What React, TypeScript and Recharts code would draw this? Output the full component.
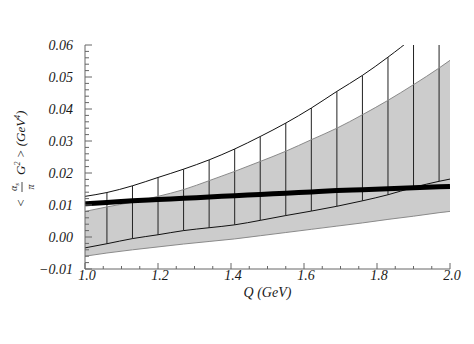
import React from "react";
import { ComposedChart, Area, Line, Bar, XAxis, YAxis } from "recharts";

// sample points along Q (GeV); hatch lines sit on the inner ones
const qValues = [1.0, 1.06, 1.13, 1.2, 1.27, 1.34, 1.41, 1.48, 1.55, 1.62, 1.69, 1.76, 1.83, 1.9, 1.97, 2.0];
const hatchUpper = [0.0127, 0.0139, 0.016, 0.0186, 0.0212, 0.0241, 0.0275, 0.0314, 0.0356, 0.0403, 0.0455, 0.0505, 0.0562, 0.0625, 0.07, 0.0735];
const hatchLower = [-0.0034, -0.0021, -0.0005, 0.0007, 0.002, 0.0029, 0.0038, 0.0052, 0.0067, 0.0081, 0.0096, 0.0113, 0.0132, 0.0155, 0.0174, 0.0181];
const grayUpper = [0.008, 0.0094, 0.0109, 0.0127, 0.0148, 0.0176, 0.0205, 0.0236, 0.0268, 0.0304, 0.034, 0.0382, 0.0427, 0.0476, 0.0528, 0.0552];
const grayLower = [-0.006, -0.005, -0.004, -0.0031, -0.0022, -0.0014, -0.0006, 0.0004, 0.0014, 0.0024, 0.0034, 0.0044, 0.0055, 0.0065, 0.0076, 0.008];
const central = [0.0104, 0.0108, 0.0113, 0.0117, 0.0121, 0.0125, 0.0129, 0.0133, 0.0137, 0.0141, 0.0145, 0.0148, 0.0151, 0.0154, 0.0157, 0.0158];
const hatchQ = [1.06, 1.13, 1.2, 1.27, 1.34, 1.41, 1.48, 1.55, 1.62, 1.69, 1.76, 1.83, 1.9, 1.97];

const xMajor = [1.0, 1.2, 1.4, 1.6, 1.8, 2.0];
const yMajor = [-0.01, 0, 0.01, 0.02, 0.03, 0.04, 0.05, 0.06];

// minor ticks every 0.05 on x and 0.002 on y
const xTicks = Array.from({ length: 21 }, (_, i) => +(1 + i * 0.05).toFixed(2));
const yTicks = Array.from({ length: 36 }, (_, i) => +(-0.01 + i * 0.002).toFixed(3));

const data = qValues.map((q, i) => ({
  q,
  gray: [grayLower[i], grayUpper[i]],
  grayLo: grayLower[i],
  grayHi: grayUpper[i],
  lo: hatchLower[i],
  hi: hatchUpper[i],
  mid: central[i],
  hatch: hatchQ.includes(q) ? [hatchLower[i], hatchUpper[i]] : undefined,
}));

const FONT = '"Liberation Serif", "DejaVu Serif", serif';
const TM = 12;
const frame = "#666";
const ink = "#1a1a1a";

const isMajor = (list: number[], v: number) => list.some((m) => Math.abs(m - v) < 1e-6);

function BottomTick(props: any) {
  const { x, y, payload } = props;
  const v = payload.value;
  const major = isMajor(xMajor, v);
  const y0 = y - TM;
  return (
    <g>
      <line x1={x} x2={x} y1={y0} y2={y0 - (major ? 6 : 3)} stroke={frame} />
      {major && (
        <text x={x + 2} y={y0 + 11} textAnchor="middle" fontFamily={FONT} fontStyle="italic" fontSize={14} fill={ink}>
          {v.toFixed(1)}
        </text>
      )}
    </g>
  );
}

function TopTick(props: any) {
  const { x, y, payload } = props;
  const major = isMajor(xMajor, payload.value);
  const y0 = y + TM;
  return <line x1={x} x2={x} y1={y0} y2={y0 + (major ? 6 : 3)} stroke={frame} />;
}

function LeftTick(props: any) {
  const { x, y, payload } = props;
  const v = payload.value;
  const major = isMajor(yMajor, v);
  const x0 = x + TM;
  return (
    <g>
      <line x1={x0} x2={x0 + (major ? 7 : 4)} y1={y} y2={y} stroke={frame} />
      {major && (
        <text x={x} y={y + 4.5} textAnchor="end" fontFamily={FONT} fontStyle="italic" fontSize={14} fill={ink}>
          {v.toFixed(2).replace("-", "\u2212")}
        </text>
      )}
    </g>
  );
}

function RightTick(props: any) {
  const { x, y, payload } = props;
  const major = isMajor(yMajor, payload.value);
  const x0 = x - TM;
  return <line x1={x0} x2={x0 - (major ? 7 : 4)} y1={y} y2={y} stroke={frame} />;
}

function YLabel(props: any) {
  const { viewBox } = props;
  const cx = viewBox.x + 13;
  const cy = viewBox.y + viewBox.height / 2;
  return (
    <g transform={`translate(${cx},${cy}) rotate(-90)`} fontFamily={FONT} fontStyle="italic" fill={ink}>
      <text x={-46} y={4} fontSize={13} textAnchor="middle">&lt;</text>
      <text x={-30} y={-4} fontSize={10} textAnchor="middle">
        α<tspan fontSize={7} dy={2}>s</tspan>
      </text>
      <line x1={-35} x2={-25} y1={1} y2={1} stroke={ink} strokeWidth={0.8} />
      <text x={-30} y={13} fontSize={10} textAnchor="middle">π</text>
      <text x={-18} y={4} fontSize={13}>
        G<tspan fontSize={8} dy={-5}>2</tspan>
        <tspan dy={5}> &gt; (GeV</tspan>
        <tspan fontSize={8} dy={-5}>4</tspan>
        <tspan dy={5}>)</tspan>
      </text>
    </g>
  );
}

function XLabel(props: any) {
  const { viewBox } = props;
  return (
    <text
      x={viewBox.x + viewBox.width / 2}
      y={viewBox.y + 28}
      textAnchor="middle"
      fontFamily={FONT}
      fontStyle="italic"
      fontSize={14}
      fill={ink}
    >
      Q (GeV)
    </text>
  );
}

export default function App() {
  return (
    <div style={{ width: 466, height: 336 }}>
      <ComposedChart width={466} height={336} data={data} margin={{ top: 37, right: 24, bottom: 45, left: 0 }}>
        <XAxis
          xAxisId="b"
          dataKey="q"
          type="number"
          domain={[1, 2]}
          ticks={xTicks}
          interval={0}
          allowDataOverflow
          height={30}
          tickSize={0}
          tickMargin={TM}
          tickLine={false}
          axisLine={{ stroke: frame }}
          tick={(p: any) => <BottomTick {...p} />}
          label={{ content: (p: any) => <XLabel {...p} /> }}
        />
        <XAxis
          xAxisId="t"
          orientation="top"
          dataKey="q"
          type="number"
          domain={[1, 2]}
          ticks={xTicks}
          interval={0}
          allowDataOverflow
          height={0}
          tickSize={0}
          tickMargin={TM}
          tickLine={false}
          axisLine={{ stroke: frame }}
          tick={(p: any) => <TopTick {...p} />}
        />
        <YAxis
          yAxisId="l"
          type="number"
          domain={[-0.01, 0.06]}
          ticks={yTicks}
          interval={0}
          allowDataOverflow
          width={77}
          tickSize={0}
          tickMargin={TM}
          tickLine={false}
          axisLine={{ stroke: frame }}
          tick={(p: any) => <LeftTick {...p} />}
          label={{ content: (p: any) => <YLabel {...p} /> }}
        />
        <YAxis
          yAxisId="r"
          orientation="right"
          type="number"
          domain={[-0.01, 0.06]}
          ticks={yTicks}
          interval={0}
          allowDataOverflow
          width={0}
          tickSize={0}
          tickMargin={TM}
          tickLine={false}
          axisLine={{ stroke: frame }}
          tick={(p: any) => <RightTick {...p} />}
        />
        <Area
          xAxisId="b"
          yAxisId="l"
          dataKey="gray"
          type="monotone"
          fill="#cccccc"
          fillOpacity={1}
          stroke="none"
          isAnimationActive={false}
        />
        <Line xAxisId="b" yAxisId="l" dataKey="grayHi" type="monotone" stroke="#8a8a8a" strokeWidth={1} dot={false} isAnimationActive={false} />
        <Line xAxisId="b" yAxisId="l" dataKey="grayLo" type="monotone" stroke="#8a8a8a" strokeWidth={1} dot={false} isAnimationActive={false} />
        <Bar xAxisId="b" yAxisId="l" dataKey="hatch" barSize={1} fill="#222" isAnimationActive={false} />
        <Line xAxisId="b" yAxisId="l" dataKey="hi" type="monotone" stroke="#111" strokeWidth={1} dot={false} isAnimationActive={false} />
        <Line xAxisId="b" yAxisId="l" dataKey="lo" type="monotone" stroke="#111" strokeWidth={1} dot={false} isAnimationActive={false} />
        <Line xAxisId="b" yAxisId="l" dataKey="mid" type="monotone" stroke="#000" strokeWidth={5} dot={false} isAnimationActive={false} />
      </ComposedChart>
    </div>
  );
}
